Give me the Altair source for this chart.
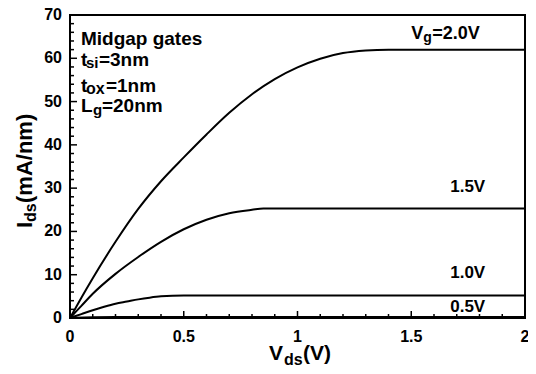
import altair as alt
import pandas as pd

# ---- data ----
vds_20 = [0, 0.05, 0.1, 0.2, 0.3, 0.4, 0.5, 0.6, 0.7, 0.8, 0.9, 1.0, 1.1, 1.2, 1.3, 1.4, 1.6, 1.8, 2.0]
ids_20 = [0, 4.7, 9.2, 17.6, 25.2, 31.6, 37.1, 42.4, 47.4, 51.7, 55.2, 57.9, 59.9, 61.2, 61.8, 62.0, 62.0, 62.0, 62.0]
vds_15 = [0, 0.05, 0.1, 0.2, 0.3, 0.4, 0.5, 0.6, 0.7, 0.8, 0.85, 1.0, 1.5, 2.0]
ids_15 = [0, 2.8, 5.6, 10.2, 14.1, 17.6, 20.5, 22.7, 24.2, 25.0, 25.3, 25.3, 25.3, 25.3]
vds_10 = [0, 0.05, 0.1, 0.15, 0.2, 0.25, 0.3, 0.35, 0.4, 0.5, 1.0, 1.5, 2.0]
ids_10 = [0, 0.9, 1.8, 2.6, 3.3, 3.8, 4.3, 4.7, 5.0, 5.2, 5.2, 5.2, 5.2]
vds_05 = [0, 0.1, 0.2, 0.3, 1.0, 2.0]
ids_05 = [0, 0.15, 0.22, 0.25, 0.25, 0.25]

x_major = [0, 0.5, 1, 1.5, 2]
x_major_labels = ["0", "0.5", "1", "1.5", "2"]
x_minor = [0.1, 0.2, 0.3, 0.4, 0.6, 0.7, 0.8, 0.9, 1.1, 1.2, 1.3, 1.4, 1.6, 1.7, 1.8, 1.9]
y_major = [0, 10, 20, 30, 40, 50, 60, 70]
y_major_labels = ["0", "10", "20", "30", "40", "50", "60", "70"]
y_minor = [v for v in range(2, 70, 2) if v % 10 != 0]

# annotation pieces: text, x (data), y (data), font size, pixel shift right, pixel shift down
note_text = ["Midgap gates", "t", "si", "=3nm", "t", "ox", "=1nm", "L", "g", "=20nm", "V", "g", "=2.0V"]
note_x = [0.048] * 10 + [1.5] * 3
note_y = [63.07, 58.29, 58.29, 58.29, 52.28, 52.28, 52.28, 47.66, 47.66, 47.66, 64.39, 64.39, 64.39]
note_fs = [19, 19, 15, 19, 19, 16, 19, 19, 15, 19, 18, 14, 18]
note_dx = [0, 0, 5, 18, 0, 5, 25, 0, 12, 21, 0, 12, 21]
note_dy = [0, 0, 2, 0, 0, 2, 0, 0, 3, 0, 0, 3, 0]

curve_labels = ["1.5V", "1.0V", "0.5V"]
curve_label_x = [1.825, 1.825, 1.825]
curve_label_y = [29.1, 9.24, 1.46]

rows = []
for vg, xs, ys in [("2.0", vds_20, ids_20), ("1.5", vds_15, ids_15),
                   ("1.0", vds_10, ids_10), ("0.5", vds_05, ids_05)]:
    for a, b in zip(xs, ys):
        rows.append({"vg": vg, "vds": a, "ids": b})
df = pd.DataFrame(rows)

FONT = "Liberation Sans"
W, H = 455, 303
PX_PER_X = W / 2.0
PX_PER_Y = H / 70.0
xs_ = alt.Scale(domain=[0, 2], nice=False, zero=False)
ys_ = alt.Scale(domain=[0, 70], nice=False)
XN = lambda f: alt.X(f, scale=xs_, axis=None)
YN = lambda f: alt.Y(f, scale=ys_, axis=None)
XP = lambda f: alt.X(f, scale=None, axis=None)
YP = lambda f: alt.Y(f, scale=None, axis=None)

lines = alt.Chart(df).mark_line(color="black", strokeWidth=2, interpolate="monotone").encode(
    x=XN("vds:Q"), y=YN("ids:Q"), detail="vg:N")

# inward ticks as filled tick marks
xtM = alt.Chart(pd.DataFrame({"v": x_major})).mark_tick(color="black", thickness=1.5, size=7, opacity=1).encode(
    x=XN("v:Q"), y=alt.value(H - 3.5))
xtm = alt.Chart(pd.DataFrame({"v": x_minor})).mark_tick(color="black", thickness=1.5, size=4, opacity=1).encode(
    x=XN("v:Q"), y=alt.value(H - 2))
ytM = alt.Chart(pd.DataFrame({"v": y_major})).mark_tick(color="black", thickness=1.5, size=7, opacity=1).encode(
    y=YN("v:Q"), x=alt.value(3.5))
ytm = alt.Chart(pd.DataFrame({"v": y_minor})).mark_tick(color="black", thickness=1.5, size=4, opacity=1).encode(
    y=YN("v:Q"), x=alt.value(2))

# frame around the plot area as four thin filled rectangles
one = pd.DataFrame({"k": [0]})
frame = [
    alt.Chart(one).mark_rect(color="black", opacity=1).encode(
        x=alt.value(-1), x2=alt.value(W + 1), y=alt.value(-1), y2=alt.value(1)),
    alt.Chart(one).mark_rect(color="black", opacity=1).encode(
        x=alt.value(-1), x2=alt.value(W + 1), y=alt.value(H - 1), y2=alt.value(H + 1)),
    alt.Chart(one).mark_rect(color="black", opacity=1).encode(
        x=alt.value(-1), x2=alt.value(1), y=alt.value(-1), y2=alt.value(H + 1)),
    alt.Chart(one).mark_rect(color="black", opacity=1).encode(
        x=alt.value(W - 1), x2=alt.value(W + 1), y=alt.value(-1), y2=alt.value(H + 1)),
]

xlab = alt.Chart(pd.DataFrame({"v": x_major, "t": x_major_labels, "p": [H + 11] * 5})).mark_text(
    align="center", baseline="top", fontSize=16, font=FONT, fontWeight="bold", color="black"
).encode(x=XN("v:Q"), y=YP("p:Q"), text="t:N")
ylab = alt.Chart(pd.DataFrame({"v": y_major, "t": y_major_labels, "p": [-8] * 8})).mark_text(
    align="right", baseline="middle", fontSize=16, font=FONT, fontWeight="bold", color="black"
).encode(y=YN("v:Q"), x=XP("p:Q"), text="t:N")

nd = pd.DataFrame({"t": note_text, "x": note_x, "y": note_y, "fs": note_fs, "dx": note_dx, "dy": note_dy})
nd["xs"] = nd["x"] + nd["dx"] / PX_PER_X
nd["ys"] = nd["y"] - nd["dy"] / PX_PER_Y
notes = alt.Chart(nd).mark_text(align="left", baseline="alphabetic", font=FONT, fontWeight="bold",
                                color="black").encode(
    x=XN("xs:Q"), y=YN("ys:Q"), text="t:N", size=alt.Size("fs:Q", scale=None, legend=None))

cl = alt.Chart(pd.DataFrame({"t": curve_labels, "x": curve_label_x, "y": curve_label_y})).mark_text(
    align="right", baseline="alphabetic", font=FONT, fontWeight="bold", color="black", fontSize=17
).encode(x=XN("x:Q"), y=YN("y:Q"), text="t:N")

# axis titles (with subscripts), placed in pixels around the plot
title_text = ["V", "ds", "(V)", "I", "ds", "(mA/nm)"]
title_px = [199, 214, 233, -38, -34, -38]
title_py = [345, 350, 345, 213, 207, 188]
title_fs = [21, 16, 21, 22, 16, 22]
title_ang = [0, 0, 0, 270, 270, 270]
td = pd.DataFrame({"t": title_text, "px": title_px, "py": title_py, "fs": title_fs, "ang": title_ang})
titles = alt.Chart(td).mark_text(align="left", baseline="alphabetic", font=FONT, fontWeight="bold",
                                 color="black").encode(
    x=XP("px:Q"), y=YP("py:Q"), text="t:N",
    size=alt.Size("fs:Q", scale=None, legend=None), angle=alt.Angle("ang:Q", scale=None))

chart = alt.layer(lines, xtM, xtm, ytM, ytm, *frame, xlab, ylab, notes, cl, titles).resolve_scale(
    x="independent", y="independent", size="independent"
).properties(
    width=W, height=H,
    autosize=alt.AutoSizeParams(type="none"),
    padding={"left": 62, "top": 7, "right": 3, "bottom": 48},
).configure_view(stroke="black", strokeWidth=2)

chart.save("out.html", embed_options={"renderer": "svg", "actions": False})
